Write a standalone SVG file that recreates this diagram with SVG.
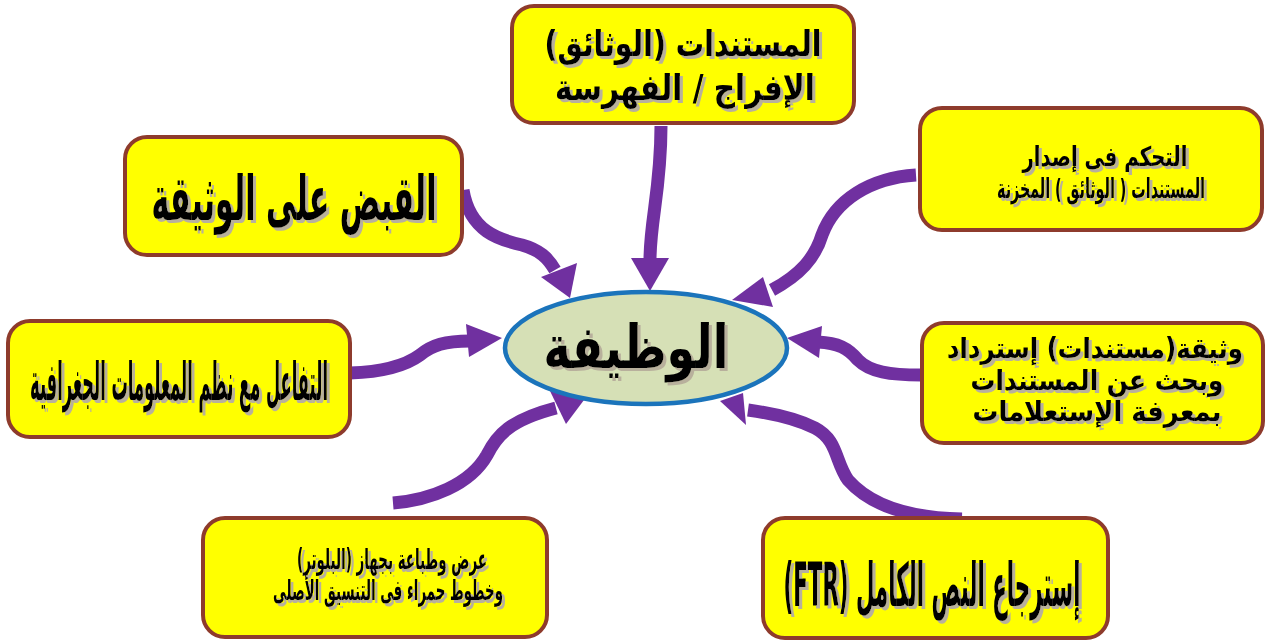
<svg xmlns="http://www.w3.org/2000/svg" width="1267" height="641" viewBox="0 0 1267 641">
  <defs>
    <filter id="txtShadow" x="-10%" y="-30%" width="125%" height="170%">
      <feOffset in="SourceAlpha" dx="3" dy="3" result="off"/>
      <feFlood flood-color="#b8b09c"/>
      <feComposite operator="in" in2="off" result="sh"/>
      <feMerge>
        <feMergeNode in="sh"/>
        <feMergeNode in="SourceGraphic"/>
      </feMerge>
    </filter>
  </defs>
  <style>
    .box { fill: #ffff00; stroke: #8e3b2c; stroke-width: 4; }
    .hub { fill: #d6e0b6; stroke: #1b74bb; stroke-width: 4.5; }
    .lbl { font-family: "DejaVu Sans", sans-serif; font-weight: bold; fill: #000; text-anchor: middle; direction: rtl; unicode-bidi: embed; filter: url(#txtShadow); }
    .wire { fill: none; stroke: #7030a0; stroke-width: 13; stroke-linecap: butt; }
    .head { fill: #7030a0; }
  </style>
  <rect width="1267" height="641" fill="#ffffff"/>

  <!-- connectors: every curve runs from a box toward the central ellipse -->
  <g id="connectors">
    <path class="wire" d="M661,126 C661,190 650,220 650,260"/>
    <polygon class="head" points="631,258 669,258 650,291"/>

    <path class="wire" d="M463,190 C470,232 500,240 522,245 C540,250 548,258 555,270"/>
    <polygon class="head" points="541,277 577,263 570,298"/>

    <path class="wire" d="M916,175 C870,178 835,200 822,235 C815,258 800,275 772,290"/>
    <polygon class="head" points="763,277 773,307 732,300"/>

    <path class="wire" d="M350,373 C380,372 405,366 420,355 C432,345 445,341 470,341"/>
    <polygon class="head" points="466,324 469,357 502,338"/>

    <path class="wire" d="M921,375 C890,375 870,372 858,360 C848,348 838,343 818,342"/>
    <polygon class="head" points="822,326 819,358 787,338"/>

    <path class="wire" d="M393,503 C430,500 470,485 487,455 C497,435 510,420 556,408"/>
    <polygon class="head" points="550,391 566,424 587,396"/>

    <path class="wire" d="M962,519 C910,518 870,505 848,480 C835,462 838,440 815,428 C795,418 770,413 748,410"/>
    <polygon class="head" points="743,393 746,425 720,401"/>
  </g>

  <!-- central node -->
  <g id="node-function">
    <ellipse class="hub" cx="646" cy="348" rx="141" ry="56"/>
    <text class="lbl" x="636" y="368" font-size="60" textLength="185" lengthAdjust="spacingAndGlyphs">الوظيفة</text>
  </g>

  <g id="node-documents">
    <rect class="box" x="512" y="6" width="342" height="117" rx="22"/>
    <text class="lbl" x="683" y="56" font-size="36" textLength="277" lengthAdjust="spacingAndGlyphs">المستندات (الوثائق)</text>
    <text class="lbl" x="685" y="100" font-size="36" textLength="260" lengthAdjust="spacingAndGlyphs">الإفراج / الفهرسة</text>
  </g>

  <g id="node-capture">
    <rect class="box" x="125" y="137" width="337" height="118" rx="22"/>
    <text class="lbl" x="294" y="220" font-size="62" textLength="285" lengthAdjust="spacingAndGlyphs">القبض على الوثيقة</text>
  </g>

  <g id="node-version-control">
    <rect class="box" x="920" y="108" width="342" height="122" rx="22"/>
    <text class="lbl" x="1105" y="166" font-size="27" textLength="165" lengthAdjust="spacingAndGlyphs">التحكم فى إصدار</text>
    <text class="lbl" x="1101" y="198" font-size="27" textLength="208" lengthAdjust="spacingAndGlyphs">المستندات ( الوثائق ) المخزنة</text>
  </g>

  <g id="node-gis">
    <rect class="box" x="8" y="321" width="342" height="116" rx="22"/>
    <text class="lbl" x="179" y="400" font-size="52" textLength="298" lengthAdjust="spacingAndGlyphs">التفاعل مع نظم المعلومات الجغرافية</text>
  </g>

  <g id="node-retrieval">
    <rect class="box" x="922" y="323" width="341" height="120" rx="22"/>
    <text class="lbl" x="1095" y="358" font-size="28" textLength="296" lengthAdjust="spacingAndGlyphs">وثيقة(مستندات) إسترداد</text>
    <text class="lbl" x="1097" y="390" font-size="28" textLength="253" lengthAdjust="spacingAndGlyphs">وبحث عن المستندات</text>
    <text class="lbl" x="1097" y="421" font-size="28" textLength="249" lengthAdjust="spacingAndGlyphs">بمعرفة الإستعلامات</text>
  </g>

  <g id="node-plotter">
    <rect class="box" x="203" y="518" width="344" height="119" rx="22"/>
    <text class="lbl" x="392" y="569" font-size="28" textLength="190" lengthAdjust="spacingAndGlyphs">عرض وطباعة بجهاز (البلوتر)</text>
    <text class="lbl" x="388" y="600" font-size="28" textLength="230" lengthAdjust="spacingAndGlyphs">وخطوط حمراء فى التنسيق الأصلى</text>
  </g>

  <g id="node-ftr">
    <rect class="box" x="763" y="518" width="345" height="120" rx="22"/>
    <text class="lbl" x="932" y="606" font-size="60" textLength="297" lengthAdjust="spacingAndGlyphs">إسترجاع النص الكامل (FTR)</text>
  </g>
</svg>
